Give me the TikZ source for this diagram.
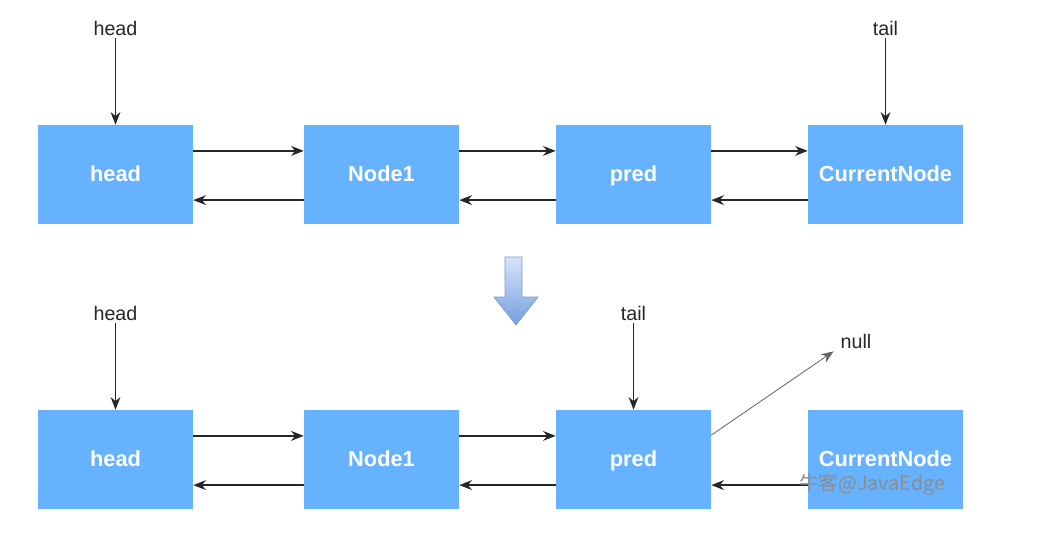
\documentclass[tikz,border=0pt]{standalone}
\usepackage{fontspec}
\setmainfont{Liberation Sans}
\newfontfamily\cjkfont{Noto Sans CJK SC}
\usepackage{tikz}
\usetikzlibrary{arrows.meta, positioning}
\definecolor{boxblue}{RGB}{102,178,255}
\definecolor{arrowtop}{RGB}{214,228,250}
\definecolor{arrowbot}{RGB}{118,158,222}
\definecolor{arrowedge}{RGB}{120,155,210}

\begin{document}
\begin{tikzpicture}[x=0.025cm, y=-0.025cm, >={Stealth[length=9pt, width=7pt]},
    font=\fontsize{14}{16}\selectfont,
    box/.style={fill=boxblue, minimum width=3.875cm, minimum height=2.475cm, inner sep=0pt,
                text height=1.05em, text depth=0pt,
                text=white, font=\fontsize{15.5}{18}\selectfont\bfseries},
    lbl/.style={inner sep=2pt, text=black!85},
    link/.style={->, line width=0.9pt, black!85}]
  \useasboundingbox (0,0) rectangle (1063,551);
  % before
  \node[box] (h1) at (115.5,174.5) {head};
  \node[box] (n1) at (381.5,174.5) {Node1};
  \node[box] (p1) at (633.5,174.5) {pred};
  \node[box] (c1) at (885.5,174.5) {CurrentNode};
  \node[lbl] (headlbl1) at (115.5,28) {head};
  \node[lbl] (taillbl1) at (885.5,28) {tail};
  \draw[link] (headlbl1) -- (h1);
  \draw[link] (taillbl1) -- (c1);
  \draw[link] ([yshift=0.59cm]h1.east) -- ([yshift=0.59cm]n1.west);
  \draw[link] ([yshift=0.59cm]n1.east) -- ([yshift=0.59cm]p1.west);
  \draw[link] ([yshift=0.59cm]p1.east) -- ([yshift=0.59cm]c1.west);
  \draw[link] ([yshift=-0.64cm]n1.west) -- ([yshift=-0.64cm]h1.east);
  \draw[link] ([yshift=-0.64cm]p1.west) -- ([yshift=-0.64cm]n1.east);
  \draw[link] ([yshift=-0.64cm]c1.west) -- ([yshift=-0.64cm]p1.east);
  % big arrow
  \shade[top color=arrowtop, bottom color=arrowbot, draw=arrowedge, line width=0.5pt]
    (505,257) -- (522,257) -- (522,297) -- (538,297) -- (516,325) -- (494,297) -- (505,297) -- cycle;
  % after
  \node[box] (h2) at (115.5,459.5) {head};
  \node[box] (n2) at (381.5,459.5) {Node1};
  \node[box] (p2) at (633.5,459.5) {pred};
  \node[box] (c2) at (885.5,459.5) {CurrentNode};
  \node[lbl] (headlbl2) at (115.5,313) {head};
  \node[lbl] (taillbl2) at (633.5,313) {tail};
  \node[lbl] (nulllbl) at (856,341) {null};
  \draw[link] (headlbl2) -- (h2);
  \draw[link] (taillbl2) -- (p2);
  \draw[link] ([yshift=0.59cm]h2.east) -- ([yshift=0.59cm]n2.west);
  \draw[link] ([yshift=0.59cm]n2.east) -- ([yshift=0.59cm]p2.west);
  \draw[link] ([yshift=-0.64cm]n2.west) -- ([yshift=-0.64cm]h2.east);
  \draw[link] ([yshift=-0.64cm]p2.west) -- ([yshift=-0.64cm]n2.east);
  \draw[link] ([yshift=-0.64cm]c2.west) -- ([yshift=-0.64cm]p2.east);
  \draw[->, line width=0.6pt, black!60] ([yshift=0.61cm]p2.east) -- ([xshift=-0.1cm]nulllbl.south west);
  % watermark
  \node[text=black!45, font=\cjkfont\fontsize{14}{16}\selectfont] (mark) at (872,485) {牛客@JavaEdge};
\end{tikzpicture}
\end{document}
